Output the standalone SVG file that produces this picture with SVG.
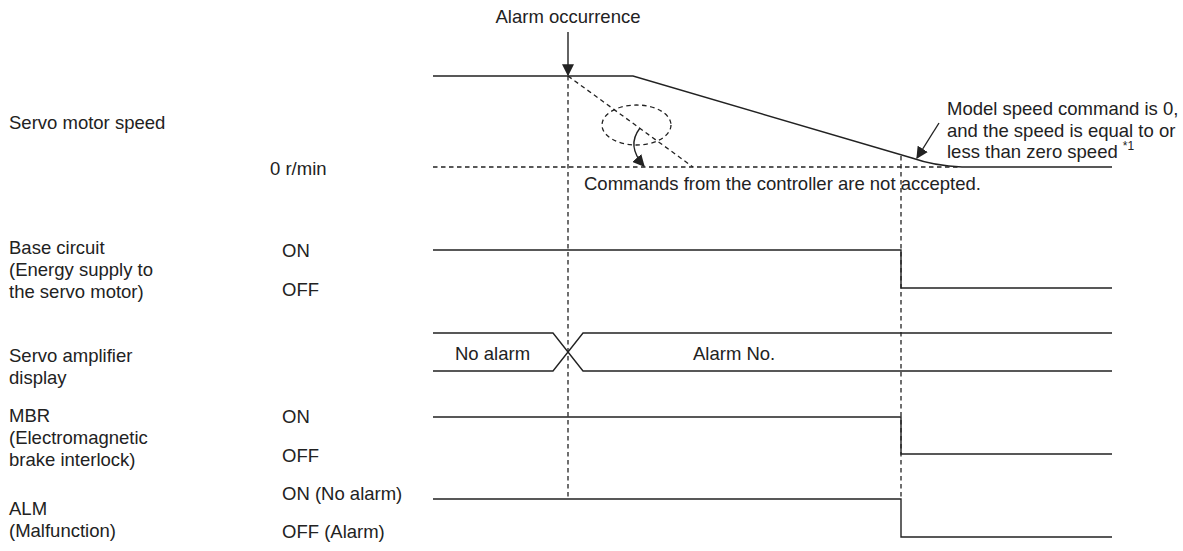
<svg xmlns="http://www.w3.org/2000/svg" width="1183" height="551" viewBox="0 0 1183 551">
<style>
text{font-family:"Liberation Sans",Arial,sans-serif;font-size:18.5px;fill:#222}
.sig{fill:none;stroke:#222;stroke-width:1.4}
.dash{fill:none;stroke:#222;stroke-width:1.3;stroke-dasharray:4.5,3.5}
.sup{font-size:12px}
</style>
<defs>
<marker id="ah" viewBox="0 0 10 10" refX="9" refY="5" markerWidth="12" markerHeight="12" markerUnits="userSpaceOnUse" orient="auto">
<path d="M0,0 L10,5 L0,10 Z" fill="#222"/>
</marker>
</defs>
<rect width="1183" height="551" fill="#fff"/>

<g id="labels">
<text x="9" y="129">Servo motor speed</text>
<text x="270" y="175">0 r/min</text>
<text x="9" y="254">Base circuit</text>
<text x="9" y="276">(Energy supply to</text>
<text x="9" y="298">the servo motor)</text>
<text x="282" y="257">ON</text>
<text x="282" y="296">OFF</text>
<text x="9" y="362">Servo amplifier</text>
<text x="9" y="384">display</text>
<text x="9" y="422">MBR</text>
<text x="9" y="444">(Electromagnetic</text>
<text x="9" y="466">brake interlock)</text>
<text x="282" y="423">ON</text>
<text x="282" y="462">OFF</text>
<text x="9" y="515">ALM</text>
<text x="9" y="537">(Malfunction)</text>
<text x="282" y="500">ON (No alarm)</text>
<text x="282" y="538">OFF (Alarm)</text>
</g>

<g id="guides">
<line class="dash" x1="433" y1="167" x2="960" y2="167"/>
<line class="dash" x1="568" y1="76" x2="568" y2="499"/>
<line class="dash" x1="901" y1="156" x2="901" y2="499"/>
<line class="dash" x1="568" y1="76" x2="693" y2="167"/>
<ellipse class="dash" cx="636.5" cy="125" rx="34.5" ry="20"/>
</g>

<g id="speed">
<path class="sig" d="M433,76 L633,76 L912,158 Q935,166 962,167 L1112,167"/>
</g>

<g id="base-circuit">
<path class="sig" d="M433,250 L901,250 L901,288 L1112,288"/>
</g>

<g id="display">
<path class="sig" d="M433,333 L553,333 L583,371 L1112,371"/>
<path class="sig" d="M433,371 L553,371 L583,333 L1112,333"/>
<text x="455" y="360">No alarm</text>
<text x="693" y="360">Alarm No.</text>
</g>

<g id="mbr">
<path class="sig" d="M433,417 L901,417 L901,454 L1112,454"/>
</g>

<g id="alm">
<path class="sig" d="M433,499 L901,499 L901,537 L1112,537"/>
</g>

<g id="annotations">
<text x="568" y="23" text-anchor="middle">Alarm occurrence</text>
<line class="sig" x1="568" y1="32" x2="568" y2="75" marker-end="url(#ah)"/>
<path class="sig" d="M640,128 Q626,146 644,166" marker-end="url(#ah)"/>
<text x="584" y="190">Commands from the controller are not accepted.</text>
<line class="sig" x1="939" y1="123" x2="917" y2="158" marker-end="url(#ah)"/>
<text x="947" y="115">Model speed command is 0,</text>
<text x="947" y="137">and the speed is equal to or</text>
<text x="947" y="158">less than zero speed <tspan class="sup" dy="-8">*1</tspan></text>
</g>
</svg>
